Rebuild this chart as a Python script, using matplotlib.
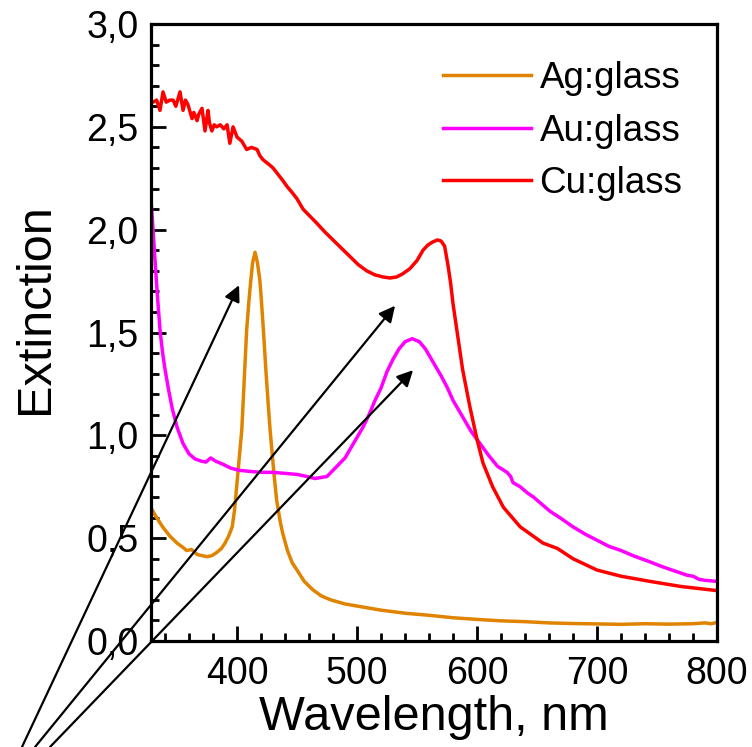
import matplotlib
matplotlib.use("Agg")
import matplotlib.pyplot as plt

plt.rcParams['font.family'] = ['Liberation Sans', 'DejaVu Sans']

# ---- data ----
ag_x = [328, 333, 338, 344, 350, 355, 358, 362, 367, 371, 375, 379, 383, 387, 390, 393, 396, 398,
        400, 402, 404, 406, 408, 410, 411.5, 413, 415, 417, 419, 420, 422, 424, 426, 427.5, 429,
        431, 433, 436, 438, 442, 446, 450, 456, 463, 470, 478, 490, 500, 520, 540, 560, 580, 600,
        620, 640, 660, 680, 700, 720, 740, 760, 780, 790, 795, 800]
ag_y = [0.65, 0.60, 0.555, 0.51, 0.476, 0.455, 0.44, 0.445, 0.42, 0.415, 0.41, 0.415, 0.43, 0.45,
        0.476, 0.51, 0.555, 0.64, 0.77, 0.90, 1.03, 1.27, 1.51, 1.66, 1.755, 1.84, 1.89, 1.84,
        1.755, 1.68, 1.51, 1.32, 1.15, 1.03, 0.93, 0.80, 0.685, 0.58, 0.525, 0.44, 0.38, 0.345,
        0.29, 0.25, 0.22, 0.20, 0.18, 0.17, 0.15, 0.135, 0.125, 0.113, 0.105, 0.098, 0.094,
        0.088, 0.085, 0.083, 0.081, 0.084, 0.082, 0.084, 0.088, 0.084, 0.09]

au_x = [328, 330, 332, 334, 336, 338, 340, 343, 346, 350, 355, 360, 365, 370, 374, 378, 382, 388,
        395, 402, 410, 420, 430, 440, 450, 458, 465, 470, 475, 480, 485, 490, 495, 500, 505, 510,
        515, 520, 525, 530, 535, 540, 546, 552, 557, 561, 566, 570, 575, 580, 586, 590, 595, 600,
        605, 610, 617, 625, 628, 630, 636, 642, 647, 655, 661, 669, 680, 690, 700, 710, 720, 730,
        744, 755, 765, 775, 780, 785, 790, 800]
au_y = [2.17, 2.00, 1.82, 1.65, 1.50, 1.40, 1.32, 1.22, 1.13, 1.04, 0.96, 0.91, 0.885, 0.875,
        0.87, 0.89, 0.875, 0.86, 0.84, 0.83, 0.825, 0.82, 0.82, 0.815, 0.81, 0.80, 0.79, 0.795,
        0.80, 0.83, 0.86, 0.89, 0.94, 0.99, 1.04, 1.10, 1.17, 1.23, 1.31, 1.37, 1.42, 1.455,
        1.47, 1.455, 1.42, 1.38, 1.33, 1.29, 1.235, 1.17, 1.11, 1.07, 1.02, 0.98, 0.94, 0.90,
        0.85, 0.82, 0.80, 0.77, 0.75, 0.72, 0.70, 0.66, 0.63, 0.60, 0.555, 0.52, 0.49, 0.46,
        0.44, 0.415, 0.385, 0.36, 0.34, 0.32, 0.315, 0.30, 0.295, 0.29]

cu_x = [327.5, 330, 333, 335.8, 338.3, 341, 344, 346.7, 349, 352.5, 355, 357, 359, 362.5, 364,
        366.7, 368, 370.8, 373.3, 375.8, 377, 379, 381, 383, 386, 389, 391.7, 394, 396.7, 400,
        404, 408, 412, 416.7, 419, 421.7, 426, 430, 434, 438, 441.7, 446, 450, 455, 460, 466.7,
        473, 480, 487, 494, 501, 508, 515, 521.7, 527.5, 533, 538, 544, 550, 555, 559, 563, 567,
        570, 573, 576, 578, 580, 584, 588, 594, 600, 605, 613, 622, 636, 655, 667, 680, 700,
        720, 744, 770, 800]
cu_y = [2.63, 2.62, 2.63, 2.58, 2.67, 2.62, 2.63, 2.63, 2.60, 2.67, 2.58, 2.63, 2.61, 2.54, 2.57,
        2.53, 2.56, 2.59, 2.48, 2.58, 2.52, 2.48, 2.51, 2.50, 2.51, 2.49, 2.51, 2.42, 2.50, 2.45,
        2.43, 2.39, 2.40, 2.39, 2.36, 2.34, 2.32, 2.30, 2.27, 2.24, 2.21, 2.18, 2.15, 2.10, 2.07,
        2.03, 1.99, 1.95, 1.91, 1.87, 1.83, 1.80, 1.78, 1.77, 1.765, 1.77, 1.785, 1.81, 1.85,
        1.90, 1.925, 1.94, 1.95, 1.945, 1.92, 1.82, 1.74, 1.64, 1.48, 1.32, 1.14, 0.98, 0.865,
        0.75, 0.65, 0.555, 0.476, 0.45, 0.40, 0.345, 0.315, 0.29, 0.265, 0.245]

series_labels = ['Ag:glass', 'Au:glass', 'Cu:glass']
series_colors = ['#E08300', '#FF00FF', '#FF0000']

# arrows: (tail x, tail y) -> (head x, head y) in data units
arrow_tails = [(220.8, -0.515), (231.7, -0.515), (244.2, -0.515)]
arrow_heads = [(401.7, 1.73), (531.7, 1.63), (546.7, 1.317)]

x_ticks = [400, 500, 600, 700, 800]
x_tick_labels = ['400', '500', '600', '700', '800']
y_ticks = [0.0, 0.5, 1.0, 1.5, 2.0, 2.5, 3.0]
y_tick_labels = ['0,0', '0,5', '1,0', '1,5', '2,0', '2,5', '3,0']

# ---- figure ----
fig = plt.figure(figsize=(7.52, 7.47), dpi=100)
ax = fig.add_axes([151/752, 1 - 641/747, (717-151)/752, (641-24)/747])

for xs, ys, lab, col in zip([ag_x, au_x, cu_x], [ag_y, au_y, cu_y], series_labels, series_colors):
    ax.plot(xs, ys, color=col, lw=2.5, label=lab, solid_joinstyle='round')

ax.set_xlim(328.3, 800)
ax.set_ylim(0, 3.0)

ax.set_xticks(x_ticks)
ax.set_xticklabels(x_tick_labels)
ax.set_yticks(y_ticks)
ax.set_yticklabels(y_tick_labels)
ax.set_xticks([x for x in range(340, 800, 20) if x % 100 != 0], minor=True)
ax.set_yticks([i / 10 for i in range(1, 30) if i % 5 != 0], minor=True)

ax.tick_params(which='both', direction='in', top=False, right=False, labelsize=27, width=2.0)
ax.tick_params(axis='x', which='major', length=11, pad=11)
ax.tick_params(axis='y', which='major', length=11, pad=9)
ax.tick_params(which='minor', length=6)
for sp in ax.spines.values():
    sp.set_linewidth(2.3)

ax.set_xlabel('Wavelength, nm', fontsize=35, labelpad=2)
ax.set_ylabel('Extinction', fontsize=35)
ax.yaxis.set_label_coords(-0.165, 0.538)

leg = ax.legend(loc='upper left', bbox_to_anchor=(0.516, 0.94), frameon=False, fontsize=26.5,
                handlelength=2.4, handletextpad=0.22, labelspacing=0.48, borderpad=0,
                borderaxespad=0)
for h in leg.get_lines():
    h.set_linewidth(2.5)

for (tx, ty), (hx, hy) in zip(arrow_tails, arrow_heads):
    ax.annotate('', xy=(hx, hy), xytext=(tx, ty), xycoords='data', textcoords='data',
                annotation_clip=False,
                arrowprops=dict(arrowstyle='-|>', color='black', lw=1.6, mutation_scale=24,
                                shrinkA=0, shrinkB=0))

fig.savefig('out.png', dpi=100)
